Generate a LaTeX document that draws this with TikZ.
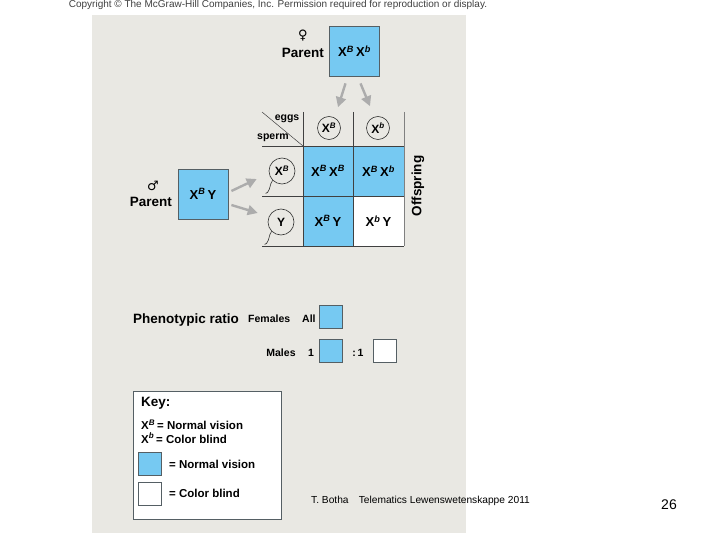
\documentclass[tikz,border=0pt]{standalone}
\usepackage{fontspec}
\setmainfont{Liberation Sans}
\newfontfamily\symfont{DejaVu Sans}
\usepackage{tikz}
\usepackage{xcolor}
\usetikzlibrary{positioning, calc, arrows.meta}
\definecolor{cellblue}{RGB}{118,201,242}
\definecolor{panelgray}{RGB}{233,232,227}
\definecolor{edgegray}{RGB}{85,95,100}
\newcommand{\XB}{X\textsuperscript{\itshape B}}
\newcommand{\Xb}{X\textsuperscript{\itshape b}}

\begin{document}
\begin{tikzpicture}[
            x=1pt, y=-1pt,
            every node/.style={font=\fontsize{11}{13}\selectfont\bfseries, inner sep=0pt},
            big/.style={font=\fontsize{13.5}{15}\selectfont\bfseries},
            mid/.style={font=\fontsize{11.5}{13}\selectfont\bfseries},
            small/.style={font=\fontsize{10.5}{12}\selectfont\bfseries},
            geno/.style={font=\fontsize{13}{15}\selectfont\bfseries},
            gbox/.style={geno, draw=edgegray, line width=0.8pt, fill=cellblue, minimum size=50pt},
            cell/.style={geno, minimum width=50pt, minimum height=50pt},
            sq/.style={draw=edgegray, line width=0.6pt, minimum size=23pt},
            gamete/.style={circle, draw=black!80, line width=0.6pt, minimum size=23pt, font=\fontsize{12}{14}\selectfont\bfseries},
            sperm/.style={gamete, minimum size=26pt},
            tail/.style={draw=black!80, line width=0.6pt},
            garrow/.style={draw=gray!65, line width=2.4pt, -{Triangle[length=10pt, width=10pt]}},
            gridline/.style={draw=black!75, line width=0.7pt},
        ]
            \fill[white] (0,0) rectangle (720,540);
            \useasboundingbox (0,0) rectangle (720,540);
            \fill[panelgray] (92,15) rectangle (466,533);

            \node[font=\fontsize{10}{12}\selectfont, text=black!75] (copy) at (278,5)
                {Copyright \textcopyright{} The McGraw-Hill Companies, Inc. Permission required for reproduction or display.};

            % parents
            \node[gbox] (fem) at (354.5,51) {\XB\,\Xb};
            \node[big, anchor=east] (femlab) at (324,53) {Parent};
            \node[font=\symfont\fontsize{13}{13}\selectfont] (femsym) at (303,36) {♀};

            \node[gbox] (male) at (203,194) {\XB\,Y};
            \node[big, anchor=east] (malelab) at (172,202) {Parent};
            \node[font=\symfont\fontsize{13}{13}\selectfont] (malesym) at (153,186) {♂};

            % punnett square
            \node[cell, fill=cellblue] (c11) at (328,171) {\XB\,\XB};
            \node[cell, fill=cellblue] (c12) at (378.5,171) {\XB\,\Xb};
            \node[cell, fill=cellblue] (c21) at (328,221) {\XB\,Y};
            \node[cell, fill=white] (c22) at (378.5,221) {\Xb\,Y};

            \draw[gridline] (262,146) -- (404,146);
            \draw[gridline] (262,196) -- (404,196);
            \draw[gridline] (262,246) -- (404,246);
            \draw[gridline] (303,112) -- (303,246);
            \draw[gridline] (353,112) -- (353,246);
            \draw[gridline, draw=gray] (404,112) -- (404,246);
            \draw[gridline, line width=0.5pt] (262,112) -- (303,146);

            \node[small] (eggslab) at (287,119) {eggs};
            \node[small] (spermlab) at (273,138) {sperm};

            \node[gamete] (eggB) at (329,128) {\XB};
            \node[gamete] (eggb) at (378,128) {\Xb};
            \node[sperm] (spB) at (282,171) {\XB};
            \node[sperm] (spY) at (281,222) {Y};
            \draw[tail] (spB.225) .. controls +(-3,4) and +(3,-4) .. ++(-5,12) -- ++(-2,1);
            \draw[tail] (spY.225) .. controls +(-3,4) and +(3,-4) .. ++(-5,12) -- ++(-2,1);

            \node[big, rotate=90] (offspr) at (418,186) {Offspring};

            \draw[garrow] ($(fem.south)+(-9,7)$) -- ($(eggB.north)+(9,-9)$);
            \draw[garrow] ($(fem.south)+(6,7)$) -- ($(eggb.north)+(-8,-10)$);
            \draw[garrow] ($(male.east)+(3,-3)$) -- ($(spB.west)+(-12,8)$);
            \draw[garrow] ($(male.east)+(3,11)$) -- ($(spY.west)+(-10,-9)$);

            % phenotypic ratio
            \node[big, anchor=west] (ratio) at (133,320) {Phenotypic ratio};
            \node[small, anchor=west] (females) at (248,319) {Females};
            \node[small, anchor=west] (all) at (302,319) {All};
            \node[sq, fill=cellblue] (fsq) at (331,317) {};
            \node[small] (males) at (281,353) {Males};
            \node[small] (one) at (311,353) {1};
            \node[sq, fill=cellblue] (msq) at (331,351) {};
            \node[small] (ratioone) at (358,353) {:\,1};
            \node[sq, fill=white] (wsq) at (385,351) {};

            % key
            \node[draw=edgegray, fill=white, line width=0.8pt, minimum width=148pt, minimum height=128pt] (key) at (207,455) {};
            \node[big, anchor=west] (keylab) at (141,403) {Key:};
            \node[mid, anchor=west] (keyB) at (141,425) {\XB\,= Normal vision};
            \node[mid, anchor=west] (keyb) at (141,438) {\Xb\,= Color blind};
            \node[sq, fill=cellblue] (ksqB) at (150,463.5) {};
            \node[mid, anchor=west] (keynorm) at (169,464) {= Normal vision};
            \node[sq, fill=white] (ksqb) at (150,493.5) {};
            \node[mid, anchor=west] (keyblind) at (169,493) {= Color blind};

            \node[font=\fontsize{10.2}{12}\selectfont, anchor=west] (foot) at (311,501) {T. Botha\quad Telematics Lewenswetenskappe 2011};
            \node[font=\fontsize{14}{16}\selectfont] (pagenum) at (669,505) {26};
        \end{tikzpicture}
\end{document}
